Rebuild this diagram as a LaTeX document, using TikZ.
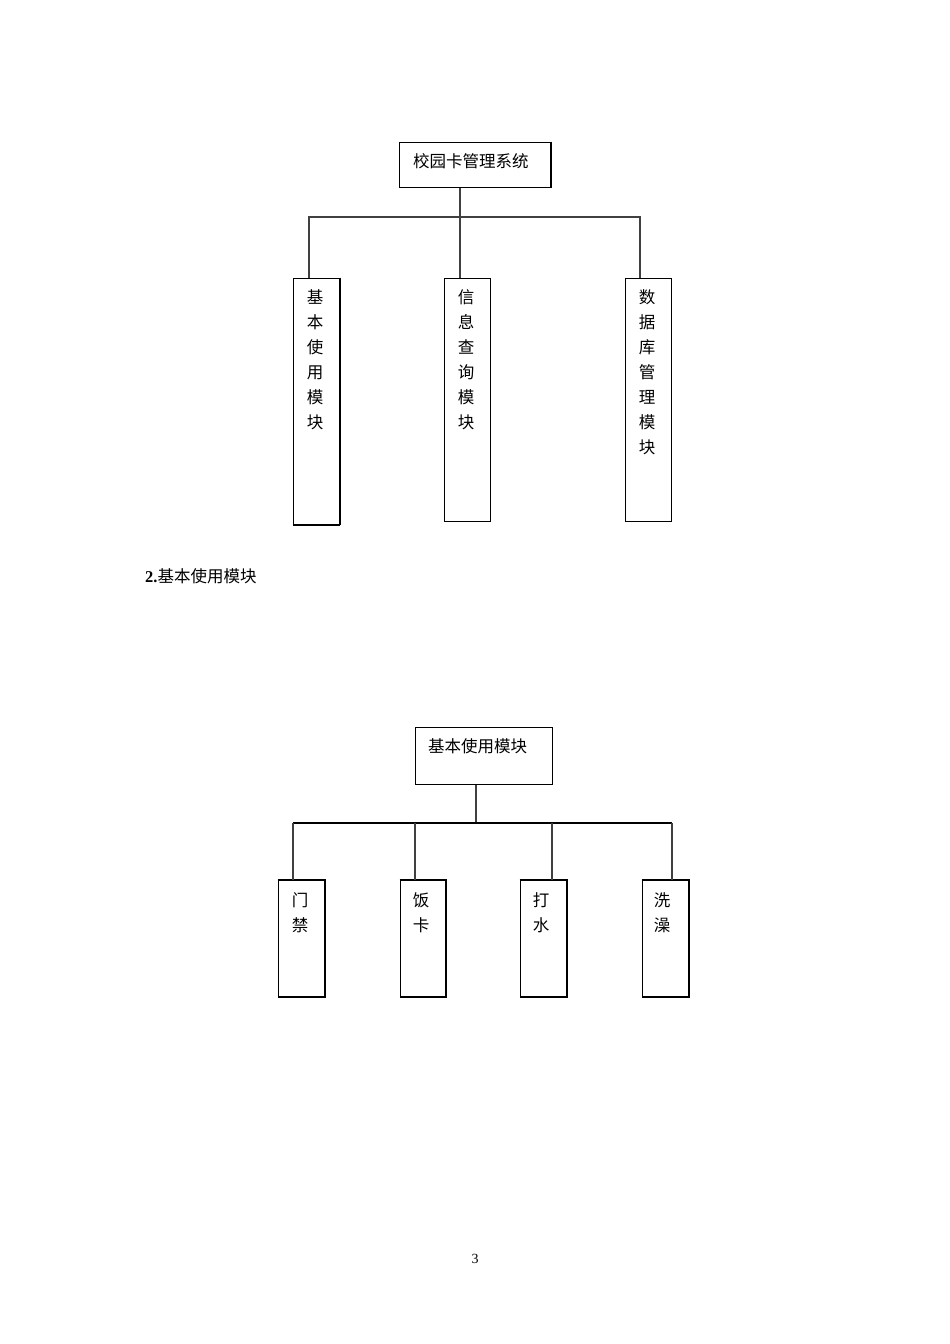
\documentclass[tikz,border=0pt]{standalone}
\usepackage{fontspec}
\setmainfont{Liberation Serif}
\newfontfamily\cjk{Noto Sans CJK SC}
\begin{document}
\begin{tikzpicture}[x=1pt,y=-1pt,
  box/.style={draw=black, line width=1pt, inner sep=0pt},
  conn/.style={draw=black!75, line width=1.3pt},
  hbar/.style={draw=black, line width=2pt},
  shade/.style={draw=black, line width=2pt},
  lbl/.style={inner sep=0pt, font=\cjk\fontsize{16.5}{25}\selectfont, align=center},
  vlbl/.style={inner sep=0pt, font=\cjk\fontsize{16.5}{25}\selectfont, align=center, anchor=north}]
\useasboundingbox[fill=white] (0,0) rectangle (950,1344);

% ---------- first diagram ----------
\node[box, minimum width=151pt, minimum height=45pt] (top) at (474.5,164.5) {};
\node[lbl, anchor=west] (toptxt) at (413,161) {校园卡管理系统};
\draw[shade] (top.north east) -- (top.south east);

\node[box, minimum width=46pt, minimum height=246pt] (b1) at (316,401) {};
\node[box, minimum width=46pt, minimum height=243pt] (b2) at (467,399.5) {};
\node[box, minimum width=46pt, minimum height=243pt] (b3) at (648,399.5) {};
\draw[shade] (b1.north east) -- (b1.south east);
\draw[shade] (b1.south west) -- (b1.south east);

\node[vlbl] (t1) at (315,289) {基\\本\\使\\用\\模\\块};
\node[vlbl] (t2) at (466,289) {信\\息\\查\\询\\模\\块};
\node[vlbl] (t3) at (647,289) {数\\据\\库\\管\\理\\模\\块};

\coordinate (j1) at (460,217);
\coordinate (l1) at (309,217);
\coordinate (r1) at (640,217);
\draw[conn] (top.south -| j1) -- (j1) -- (b2.north -| j1);
\draw[conn] (b1.north -| l1) -- (l1) -- (r1) -- (b3.north -| r1);

% ---------- heading ----------
\node[inner sep=0pt, anchor=west] (head) at (145,576)
  {\fontsize{16.5}{18}\selectfont\textbf{2.}{\cjk 基本使用模块}};

% ---------- second diagram ----------
\node[box, minimum width=137pt, minimum height=57pt] (top2) at (483.5,755.5) {};
\node[lbl, anchor=west] (top2txt) at (428,746) {基本使用模块};

\node[box, minimum width=46pt, minimum height=116pt] (c1) at (301,938) {};
\node[box, minimum width=45pt, minimum height=116pt] (c2) at (422.5,938) {};
\node[box, minimum width=46pt, minimum height=116pt] (c3) at (543,938) {};
\node[box, minimum width=46pt, minimum height=116pt] (c4) at (665,938) {};
\foreach \c in {c1,c2,c3,c4}{
  \draw[shade] (\c.north west) -- (\c.north east) -- (\c.south east) -- (\c.south west);
}

\node[vlbl] (u1) at (300,892) {门\\禁};
\node[vlbl] (u2) at (421,892) {饭\\卡};
\node[vlbl] (u3) at (541,892) {打\\水};
\node[vlbl] (u4) at (662,892) {洗\\澡};

\coordinate (j2) at (476,823);
\coordinate (p1) at (293,823);
\coordinate (p2) at (415,823);
\coordinate (p3) at (552,823);
\coordinate (p4) at (672,823);
\draw[conn] (top2.south -| j2) -- (j2);
\draw[hbar] (p1) -- (p4);
\draw[conn] (p1) -- (c1.north -| p1);
\draw[conn] (p2) -- (c2.north -| p2);
\draw[conn] (p3) -- (c3.north -| p3);
\draw[conn] (p4) -- (c4.north -| p4);

% ---------- page number ----------
\node[inner sep=0pt] (pg) at (475,1259) {\fontsize{14}{16}\selectfont 3};
\end{tikzpicture}
\end{document}
